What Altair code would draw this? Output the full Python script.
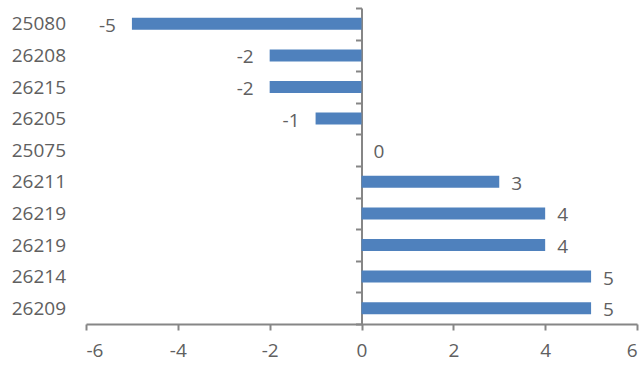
import altair as alt
import pandas as pd

# Item codes (top to bottom) and their change values
codes = ["25080", "26208", "26215", "26205", "25075",
         "26211", "26219", "26219", "26214", "26209"]
changes = [-5, -2, -2, -1, 0, 3, 4, 4, 5, 5]
x_ticks = [-6, -4, -2, 0, 2, 4, 6]

df = pd.DataFrame({
    "row": list(range(len(codes))),
    "code": codes,
    "change": changes,
})

FONT = "Open Sans"
TEXT = "#606060"
AXIS = "#868686"
BAR = "#4F81BD"
FS = 19

label_expr = "[" + ",".join(f"'{c}'" for c in codes) + "][datum.value]"

y_enc = alt.Y(
    "row:O",
    scale=alt.Scale(paddingInner=0, paddingOuter=0),
    axis=alt.Axis(
        title=None,
        labelExpr=label_expr,
        offset=-275.5,
        tickBand="extent",
        tickSize=6,
        tickColor=AXIS,
        tickWidth=2,
        domainColor=AXIS,
        domainWidth=2,
        labelPadding=290,
        labelFont=FONT,
        labelFontSize=FS,
        labelColor=TEXT,
    ),
)

x_scale = alt.Scale(domain=[-6, 6], nice=False)

bars = alt.Chart(df).mark_bar(color=BAR, size=12).encode(
    x=alt.X(
        "change:Q",
        scale=x_scale,
        axis=alt.Axis(
            title=None,
            values=x_ticks,
            labelExpr="toString(datum.value)",
            grid=False,
            tickSize=6,
            tickColor=AXIS,
            tickWidth=2,
            domainColor=AXIS,
            domainWidth=2,
            labelPadding=11,
            labelFont=FONT,
            labelFontSize=FS,
            labelColor=TEXT,
        ),
    ),
    x2=alt.datum(0),
    y=y_enc,
)

labels_base = alt.Chart(df).transform_calculate(label="toString(datum.change)")

pos_labels = labels_base.transform_filter("datum.change >= 0").mark_text(
    align="left", baseline="middle", dx=12, dy=2, font=FONT, fontSize=FS, color=TEXT
).encode(x=alt.X("change:Q", scale=x_scale), y=alt.Y("row:O"), text="label:N")

neg_labels = labels_base.transform_filter("datum.change < 0").mark_text(
    align="right", baseline="middle", dx=-16, dy=2, font=FONT, fontSize=FS, color=TEXT
).encode(x=alt.X("change:Q", scale=x_scale), y=alt.Y("row:O"), text="label:N")

chart = alt.layer(bars, pos_labels, neg_labels).properties(
    width=551,
    height=316,
    autosize=alt.AutoSizeParams(type="none"),
    padding={"left": 86, "top": 8, "right": 4, "bottom": 41},
    background="white",
).configure_view(stroke=None)

chart.save("out.html", embed_options={"renderer": "svg", "actions": False})
